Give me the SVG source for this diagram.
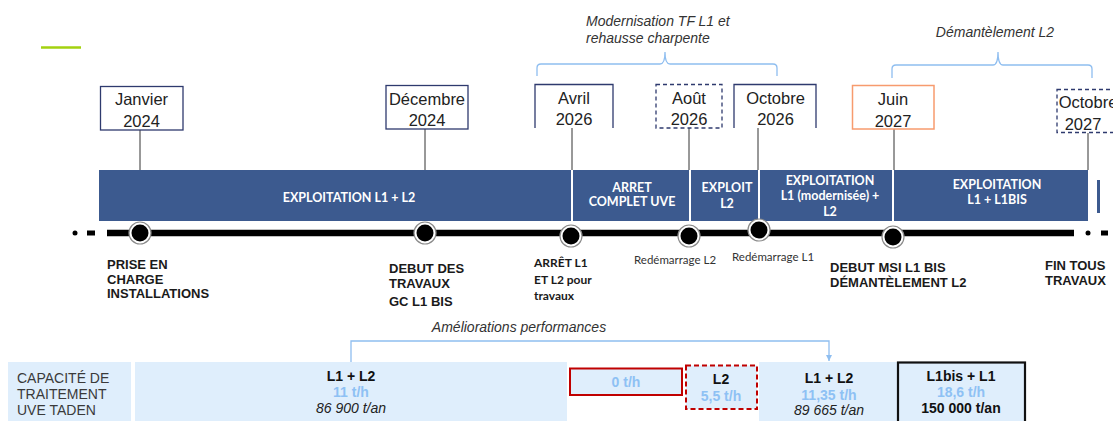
<svg xmlns="http://www.w3.org/2000/svg" width="1113" height="421" viewBox="0 0 1113 421">
<style>
.date{font-family:"Liberation Sans",Arial,sans-serif;font-size:16.5px;fill:#222;text-anchor:middle}
.box{fill:#fff;stroke:#2e3a6e;stroke-width:1.3}
.openbox{fill:none;stroke:#2e3a6e;stroke-width:1.3}
.dbox{fill:#fff;stroke:#2e3a6e;stroke-width:1.3;stroke-dasharray:4 3}
.conn{stroke:#333;stroke-width:1;fill:none}
.brace{stroke:#8fbef0;stroke-width:1.3;fill:none}
.note{font-family:"Liberation Sans",Arial,sans-serif;font-size:14px;font-style:italic;fill:#333}
.seg{fill:#3c5a8f}
.segt{font-family:Lato,"Open Sans",sans-serif;font-weight:bold;font-size:12.5px;fill:#fff;text-anchor:middle}
.ml{font-family:"Liberation Sans",Arial,sans-serif;font-weight:bold;font-size:13px;fill:#1a1a1a}
.mls{font-family:Lato,"Open Sans",sans-serif;font-weight:bold;font-size:12px;fill:#1a1a1a}
.mlr{font-family:Lato,"Open Sans",sans-serif;font-size:11.5px;fill:#333}
.ring{fill:#fff;stroke:#8a8a8a;stroke-width:1.2}
.dot{fill:#000}
.cap{fill:#dfeefc}
.capt{font-family:"Liberation Sans",Arial,sans-serif;font-size:14px;fill:#3a3a3a}
.ct{font-family:"Liberation Sans",Arial,sans-serif;font-size:14px;text-anchor:middle}
.b{font-weight:bold;fill:#111}
.lb{font-weight:bold;fill:#8ec1f4}
.it{font-style:italic;fill:#222}
</style>
<defs>
<marker id="arr" viewBox="0 0 10 10" refX="10" refY="5" markerWidth="5" markerHeight="5" orient="auto">
<path d="M0,0 L10,5 L0,10 z" fill="#8fbef0"/>
</marker>
</defs>

<line x1="41" y1="47.5" x2="81" y2="47.5" stroke="#a3d20f" stroke-width="2.5"/>

<g id="connectors">
<line class="conn" x1="140" y1="130" x2="140" y2="170"/>
<line class="conn" x1="425" y1="129" x2="425" y2="170"/>
<line class="conn" x1="572" y1="128" x2="572" y2="170"/>
<line class="conn" x1="689" y1="128" x2="689" y2="170"/>
<line class="conn" x1="758" y1="128" x2="758" y2="170"/>
<line class="conn" x1="894" y1="129" x2="894" y2="170"/>
<line class="conn" x1="1088" y1="133" x2="1088" y2="170"/>
<path class="brace" d="M351,362 V341 H829 V361" marker-end="url(#arr)"/>
</g>

<g id="brace-modernisation">
<path class="brace" d="M537,76 V68 Q537,64 541,64 H660 Q665,64 665,52 Q665,64 670,64 H773 Q777,64 777,68 V76"/>
<text class="note" x="586" y="26">Modernisation TF L1 et</text>
<text class="note" x="586" y="43">rehausse charpente</text>
</g>
<g id="brace-demantelement">
<path class="brace" d="M892,78 V69 Q892,65 896,65 H993 Q998,65 998,52 Q998,65 1003,65 H1088 Q1092,65 1092,69 V78"/>
<text class="note" x="995" y="37" text-anchor="middle">Démantèlement L2</text>
</g>

<g id="date-jan2024">
<rect class="box" x="100.5" y="86.5" width="82.5" height="43.5"/>
<text class="date" x="141.5" y="105">Janvier</text>
<text class="date" x="141.5" y="127">2024</text>
</g>
<g id="date-dec2024">
<rect class="box" x="386" y="85.5" width="82" height="43.5"/>
<text class="date" x="427" y="105">Décembre</text>
<text class="date" x="427" y="126">2024</text>
</g>
<g id="date-avr2026">
<path class="openbox" d="M535,128 V84.5 H613 V128"/>
<text class="date" x="574" y="104">Avril</text>
<text class="date" x="574" y="125">2026</text>
</g>
<g id="date-aou2026">
<rect class="dbox" x="656" y="84.5" width="66" height="43.5"/>
<text class="date" x="689" y="104">Août</text>
<text class="date" x="689" y="125">2026</text>
</g>
<g id="date-oct2026">
<path class="openbox" d="M734,128 V84.5 H816 V128"/>
<text class="date" x="775.5" y="104">Octobre</text>
<text class="date" x="775.5" y="125">2026</text>
</g>
<g id="date-jun2027">
<rect x="852.5" y="85.5" width="81.5" height="43.5" fill="#fff" stroke="#f79b6e" stroke-width="1.5"/>
<text class="date" x="893" y="105">Juin</text>
<text class="date" x="893" y="127">2027</text>
</g>
<g id="date-oct2027">
<rect class="dbox" x="1057" y="89.5" width="70" height="43"/>
<text class="date" x="1088" y="108">Octobre</text>
<text class="date" x="1083" y="130">2027</text>
</g>

<g id="phase-bar">
<rect class="seg" x="99" y="170" width="472" height="51"/>
<rect class="seg" x="573" y="170" width="116" height="51"/>
<rect class="seg" x="691" y="170" width="67" height="51"/>
<rect class="seg" x="760" y="170" width="132" height="51"/>
<rect class="seg" x="894" y="170" width="194" height="51"/>
<rect class="seg" x="1097" y="180" width="3" height="33"/>
<text class="segt" x="349" y="202">EXPLOITATION L1 + L2</text>
<text class="segt" x="632" y="192">ARRET</text>
<text class="segt" x="632" y="206">COMPLET UVE</text>
<text class="segt" x="727" y="192">EXPLOIT</text>
<text class="segt" x="727" y="208">L2</text>
<text class="segt" x="830" y="185">EXPLOITATION</text>
<text class="segt" x="830" y="200">L1 (modernisée) +</text>
<text class="segt" x="830" y="216">L2</text>
<text class="segt" x="997" y="189">EXPLOITATION</text>
<text class="segt" x="997" y="204">L1 + L1BIS</text>
</g>

<g id="timeline">
<circle cx="75" cy="233" r="2.5" fill="#000"/>
<rect x="87" y="230.5" width="8" height="5" fill="#000"/>
<line x1="107" y1="233" x2="1074" y2="233" stroke="#000" stroke-width="6.5"/>
<circle cx="1088" cy="233" r="2.5" fill="#000"/>
<rect x="1101" y="230.5" width="7" height="5" fill="#000"/>
</g>

<g id="ms-prise">
<circle class="ring" cx="140" cy="233" r="11"/><circle class="dot" cx="140" cy="233" r="8.5"/>
<text class="ml" x="107" y="269">PRISE EN</text>
<text class="ml" x="107" y="283.5">CHARGE</text>
<text class="ml" x="107" y="298">INSTALLATIONS</text>
</g>
<g id="ms-debut-travaux">
<circle class="ring" cx="425" cy="233" r="11"/><circle class="dot" cx="425" cy="233" r="8.5"/>
<text class="ml" x="389" y="273">DEBUT DES</text>
<text class="ml" x="389" y="288">TRAVAUX</text>
<text class="ml" x="389" y="306">GC L1 BIS</text>
</g>
<g id="ms-arret">
<circle class="ring" cx="571" cy="236" r="11"/><circle class="dot" cx="571" cy="236" r="8.5"/>
<text class="mls" x="534" y="267">ARRÊT L1</text>
<text class="mls" x="534" y="284">ET L2 pour</text>
<text class="mls" x="534" y="300">travaux</text>
</g>
<g id="ms-redem-l2">
<circle class="ring" cx="689" cy="236" r="11"/><circle class="dot" cx="689" cy="236" r="8.5"/>
<text class="mlr" x="634" y="264">Redémarrage L2</text>
</g>
<g id="ms-redem-l1">
<circle class="ring" cx="759" cy="230" r="11"/><circle class="dot" cx="759" cy="230" r="8.5"/>
<text class="mlr" x="732" y="261">Redémarrage L1</text>
</g>
<g id="ms-msi">
<circle class="ring" cx="893" cy="237" r="11"/><circle class="dot" cx="893" cy="237" r="8.5"/>
<text class="ml" x="830" y="272">DEBUT MSI L1 BIS</text>
<text class="ml" x="830" y="287">DÉMANTÈLEMENT L2</text>
</g>
<g id="ms-fin">
<text class="ml" x="1045" y="270">FIN TOUS</text>
<text class="ml" x="1045" y="284.5">TRAVAUX</text>
</g>

<text class="note" x="519" y="332" text-anchor="middle" font-size="13.5">Améliorations performances</text>

<g id="cap-label">
<rect class="cap" x="8" y="362" width="123" height="59"/>
<text class="capt" x="17" y="383">CAPACITÉ DE</text>
<text class="capt" x="17" y="399">TRAITEMENT</text>
<text class="capt" x="17" y="415">UVE TADEN</text>
</g>
<g id="cap-l1l2">
<rect class="cap" x="135" y="362" width="432" height="59"/>
<text class="ct b" x="351" y="381">L1 + L2</text>
<text class="ct lb" x="351" y="397">11 t/h</text>
<text class="ct it" x="351" y="413">86 900 t/an</text>
</g>
<g id="cap-zero">
<rect class="cap" x="570" y="368.5" width="112" height="26.5" stroke="#c00000" stroke-width="2"/>
<text class="ct lb" x="626" y="387">0 t/h</text>
</g>
<g id="cap-l2">
<rect class="cap" x="686" y="365.5" width="71" height="43.5" stroke="#c00000" stroke-width="2" stroke-dasharray="5 3"/>
<text class="ct b" x="721" y="384">L2</text>
<text class="ct lb" x="721" y="401">5,5 t/h</text>
</g>
<g id="cap-l1l2-mod">
<rect class="cap" x="759" y="362" width="139" height="59"/>
<text class="ct b" x="829" y="383">L1 + L2</text>
<text class="ct lb" x="829" y="400">11,35 t/h</text>
<text class="ct it" x="829" y="415">89 665 t/an</text>
</g>
<g id="cap-l1bis">
<rect class="cap" x="898" y="362.5" width="127" height="62" stroke="#111" stroke-width="2.2"/>
<text class="ct b" x="961" y="381">L1bis + L1</text>
<text class="ct lb" x="961" y="397">18,6 t/h</text>
<text class="ct b" x="961" y="413">150 000 t/an</text>
</g>
</svg>
